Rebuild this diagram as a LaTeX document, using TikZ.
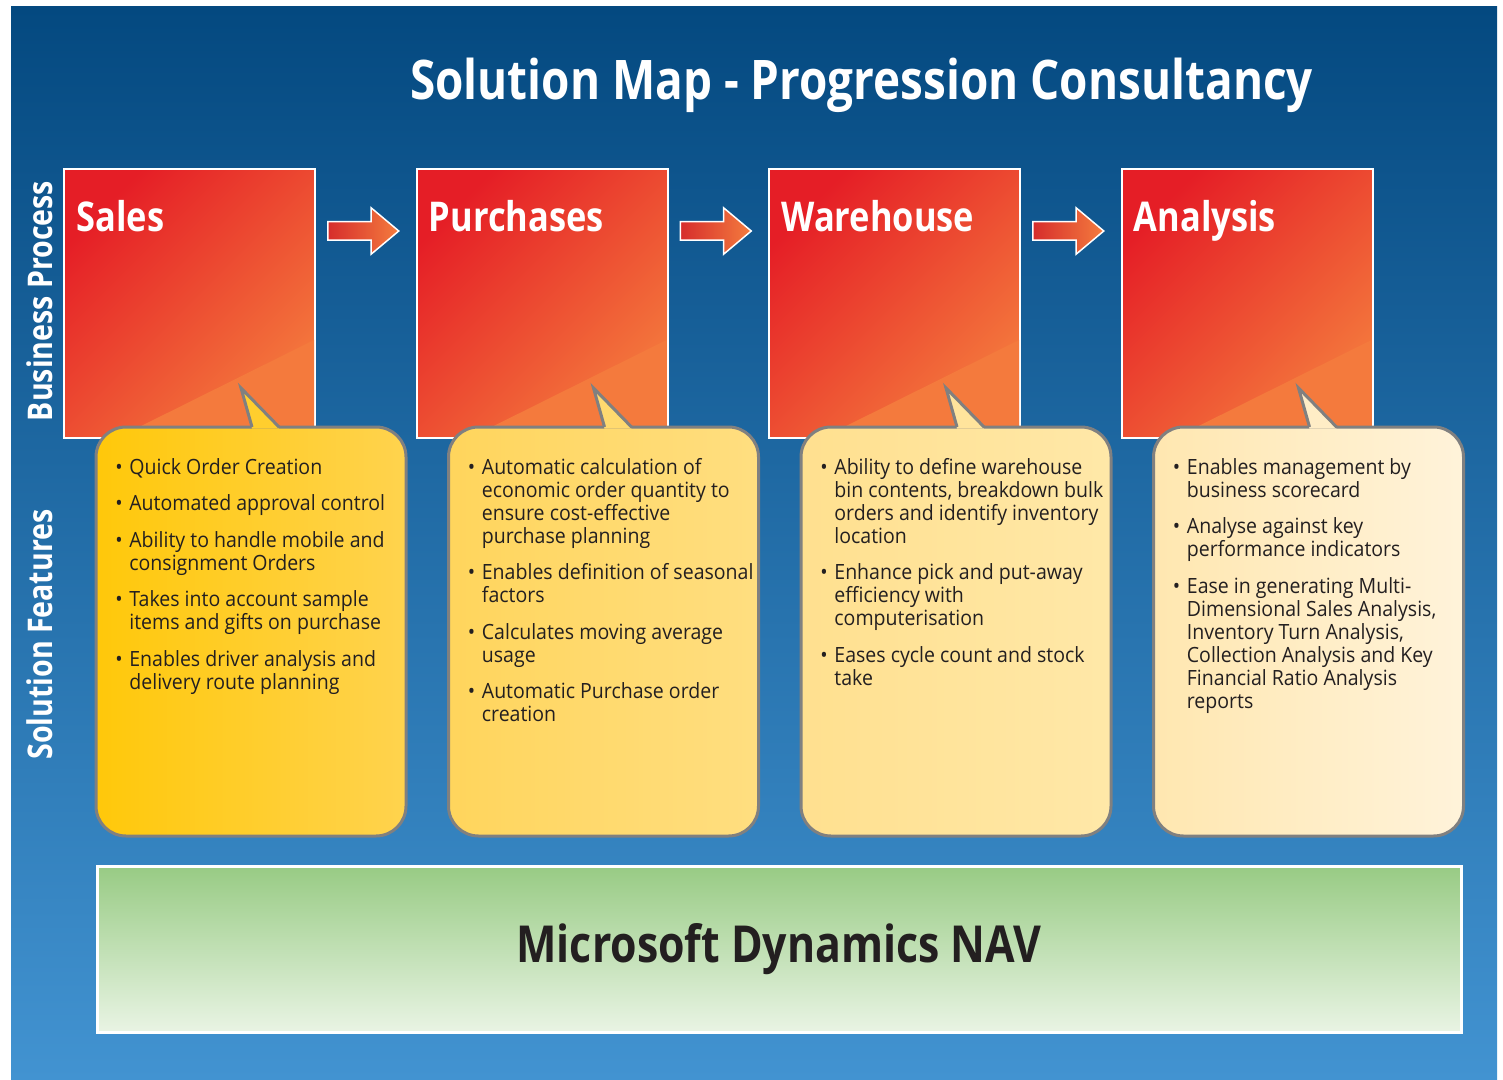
\documentclass[tikz,border=0pt]{standalone}
\usepackage{fontspec}
\setmainfont{Open Sans}[FakeStretch=0.93]
\newfontfamily\headfont{Open Sans}[FakeStretch=0.84]
\usepackage{tikz}
\newcommand{\procwidth}{125.5pt}
\newcommand{\procheight}{134.5pt}
\newcommand{\procgap}{50.75pt}
\newcommand{\notewidth}{155pt}
\newcommand{\noteheight}{204.5pt}
\newcommand{\itemgap}{6.75pt}
\newcommand{\bul}{\hspace{-1pt}\textbullet}
\usetikzlibrary{calc,positioning,shapes.arrows}
\pgfdeclarelayer{bg}
\pgfsetlayers{bg,main}
\definecolor{bluetop}{RGB}{4,73,128}
\definecolor{bluebot}{RGB}{66,147,209}
\definecolor{procA}{RGB}{229,30,38}
\definecolor{procB}{RGB}{244,122,61}
\definecolor{arrowA}{RGB}{214,45,44}
\definecolor{arrowB}{RGB}{244,124,62}
\definecolor{notegray}{RGB}{128,128,128}
\definecolor{ink}{RGB}{35,31,32}
\definecolor{salesA}{RGB}{255,200,10}
\definecolor{salesB}{RGB}{255,211,78}
\definecolor{purchA}{RGB}{255,213,92}
\definecolor{purchB}{RGB}{255,222,128}
\definecolor{wareA}{RGB}{255,224,143}
\definecolor{wareB}{RGB}{255,232,168}
\definecolor{analA}{RGB}{255,231,176}
\definecolor{analB}{RGB}{255,243,218}
\definecolor{navA}{RGB}{152,203,132}
\definecolor{navB}{RGB}{233,244,228}
\tikzset{
  proc/.style={draw=white,line width=1pt,top color=procA,bottom color=procB,shading angle=45,minimum width=\procwidth,minimum height=\procheight,inner sep=0,outer sep=0},
  proclabel/.style={font=\headfont\fontsize{20.5}{24}\selectfont\bfseries,text=white,inner sep=0,anchor=base west},
  flat/.style={fill=procB},
  note/.style={draw=notegray,line width=1.5pt,rounded corners=15pt,minimum width=\notewidth,minimum height=\noteheight,inner sep=0,outer sep=0,anchor=north west},
  notetext/.style={font=\fontsize{10.5}{11.5}\selectfont,text=ink,inner sep=0,anchor=base west},
  pointer/.style={draw=notegray,line width=1.5pt,line join=miter},
  flow/.style={single arrow,draw=white,line width=0.75pt,left color=arrowA,right color=arrowB,minimum height=35.5pt,minimum width=0pt,inner xsep=0pt,inner ysep=4.25pt,single arrow head extend=7pt,single arrow tip angle=80},
  side/.style={font=\headfont\fontsize{17}{20}\selectfont\bfseries,text=white,rotate=90,inner sep=0},
  navbox/.style={draw=white,line width=1.5pt,top color=navA,bottom color=navB,minimum width=682pt,minimum height=83pt,inner sep=0,outer sep=0,anchor=north west}
}

\begin{document}
\begin{tikzpicture}[x=0.5pt,y=-0.5pt]
    \useasboundingbox (0,0) rectangle (1503,1080);
    \begin{pgfonlayer}{bg}
      \path [top color=bluetop,bottom color=bluebot] (11,7) rectangle (1497,1080);
    \end{pgfonlayer}

    \node (title) [anchor=base,text=white,font=\headfont\fontsize{27.3}{30}\selectfont\bfseries] at (861.5,100) {Solution Map - Progression Consultancy};

    % business process row
    \node (sales) [proc,anchor=north west] at (64,169) {};
    \node (purchases) [proc,right=\procgap of sales] {};
    \node (warehouse) [proc,right=\procgap of purchases] {};
    \node (analysis) [proc,right=\procgap of warehouse] {};
    \fill [flat] ($(sales.south east)+(-196,-1)$) -- ($(sales.south east)+(-1,-1)$) -- ($(sales.south east)+(-1,-98)$) -- cycle;
    \fill [flat] ($(purchases.south east)+(-196,-1)$) -- ($(purchases.south east)+(-1,-1)$) -- ($(purchases.south east)+(-1,-98)$) -- cycle;
    \fill [flat] ($(warehouse.south east)+(-196,-1)$) -- ($(warehouse.south east)+(-1,-1)$) -- ($(warehouse.south east)+(-1,-98)$) -- cycle;
    \fill [flat] ($(analysis.south east)+(-196,-1)$) -- ($(analysis.south east)+(-1,-1)$) -- ($(analysis.south east)+(-1,-98)$) -- cycle;
    \node (saleslabel) [proclabel] at ($(sales.north west)+(12,63)$) {Sales};
    \node (purchaseslabel) [proclabel] at ($(purchases.north west)+(12,63)$) {Purchases};
    \node (warehouselabel) [proclabel] at ($(warehouse.north west)+(12,63)$) {Warehouse};
    \node (analysislabel) [proclabel] at ($(analysis.north west)+(12,63)$) {Analysis};

    \node (flow1) [flow] at ($(sales.north east)!0.5!(purchases.north west)+(-8,62)$) {};
    \node (flow2) [flow] at ($(purchases.north east)!0.5!(warehouse.north west)+(-8,62)$) {};
    \node (flow3) [flow] at ($(warehouse.north east)!0.5!(analysis.north west)+(-8,62)$) {};

    % solution features row
    \node (salesnote) [note,left color=salesA,right color=salesB] at ($(sales.south west)+(32,-11)$) {};
    \node (purchasesnote) [note,left color=purchA,right color=purchB] at ($(purchases.south west)+(32,-11)$) {};
    \node (warehousenote) [note,left color=wareA,right color=wareB] at ($(warehouse.south west)+(32,-11)$) {};
    \node (analysisnote) [note,left color=analA,right color=analB] at ($(analysis.south west)+(32,-11)$) {};

    \path [fill=salesA!47!salesB] ($(salesnote.north west)+(156,1.6)$) -- ($(salesnote.north west)+(145,-39)$) -- ($(salesnote.north west)+(183,1.6)$) -- cycle;
    \path [pointer] ($(salesnote.north west)+(156,0)$) -- ($(salesnote.north west)+(145,-39)$) -- ($(salesnote.north west)+(183,0)$);
    \path [fill=purchA!47!purchB] ($(purchasesnote.north west)+(156,1.6)$) -- ($(purchasesnote.north west)+(145,-39)$) -- ($(purchasesnote.north west)+(183,1.6)$) -- cycle;
    \path [pointer] ($(purchasesnote.north west)+(156,0)$) -- ($(purchasesnote.north west)+(145,-39)$) -- ($(purchasesnote.north west)+(183,0)$);
    \path [fill=wareA!47!wareB] ($(warehousenote.north west)+(156,1.6)$) -- ($(warehousenote.north west)+(145,-39)$) -- ($(warehousenote.north west)+(183,1.6)$) -- cycle;
    \path [pointer] ($(warehousenote.north west)+(156,0)$) -- ($(warehousenote.north west)+(145,-39)$) -- ($(warehousenote.north west)+(183,0)$);
    \path [fill=analA!47!analB] ($(analysisnote.north west)+(156,1.6)$) -- ($(analysisnote.north west)+(145,-39)$) -- ($(analysisnote.north west)+(183,1.6)$) -- cycle;
    \path [pointer] ($(analysisnote.north west)+(156,0)$) -- ($(analysisnote.north west)+(145,-39)$) -- ($(analysisnote.north west)+(183,0)$);

    \node (salestext) [notetext] at ($(salesnote.north west)+(21,47)$) {
      \begin{tabular}[t]{@{}p{6pt}@{}l@{}}
        \bul & Quick Order Creation \\[\itemgap]
        \bul & Automated approval control \\[\itemgap]
        \bul & Ability to handle mobile and \\
             & consignment Orders \\[\itemgap]
        \bul & Takes into account sample \\
             & items and gifts on purchase \\[\itemgap]
        \bul & Enables driver analysis and \\
             & delivery route planning \\
      \end{tabular}
    };
    \node (purchasestext) [notetext] at ($(purchasesnote.north west)+(21,47)$) {
      \begin{tabular}[t]{@{}p{6pt}@{}l@{}}
        \bul & Automatic calculation of \\
             & economic order quantity to \\
             & ensure cost-effective \\
             & purchase planning \\[\itemgap]
        \bul & Enables definition of seasonal \\
             & factors \\[\itemgap]
        \bul & Calculates moving average \\
             & usage \\[\itemgap]
        \bul & Automatic Purchase order \\
             & creation \\
      \end{tabular}
    };
    \node (warehousetext) [notetext] at ($(warehousenote.north west)+(21,47)$) {
      \begin{tabular}[t]{@{}p{6pt}@{}l@{}}
        \bul & Ability to define warehouse \\
             & bin contents, breakdown bulk \\
             & orders and identify inventory \\
             & location \\[\itemgap]
        \bul & Enhance pick and put-away \\
             & efficiency with \\
             & computerisation \\[\itemgap]
        \bul & Eases cycle count and stock \\
             & take \\
      \end{tabular}
    };
    \node (analysistext) [notetext] at ($(analysisnote.north west)+(21,47)$) {
      \begin{tabular}[t]{@{}p{6pt}@{}l@{}}
        \bul & Enables management by \\
             & business scorecard \\[\itemgap]
        \bul & Analyse against key \\
             & performance indicators \\[\itemgap]
        \bul & Ease in generating Multi- \\
             & Dimensional Sales Analysis, \\
             & Inventory Turn Analysis, \\
             & Collection Analysis and Key \\
             & Financial Ratio Analysis \\
             & reports \\
      \end{tabular}
    };

    \node (bizlabel) [side] at ($(sales.west)+(-24.5,-2.5)$) {Business Process};
    \node (featlabel) [side] at ($(salesnote.west)+(-56.5,3)$) {Solution Features};

    \node (nav) [navbox] at ($(salesnote.south west)+(1,30)$) {};
    \node (navlabel) [text=ink,font=\headfont\fontsize{25.5}{30}\selectfont\bfseries] at (nav.center) {Microsoft Dynamics NAV};
  \end{tikzpicture}
\end{document}
